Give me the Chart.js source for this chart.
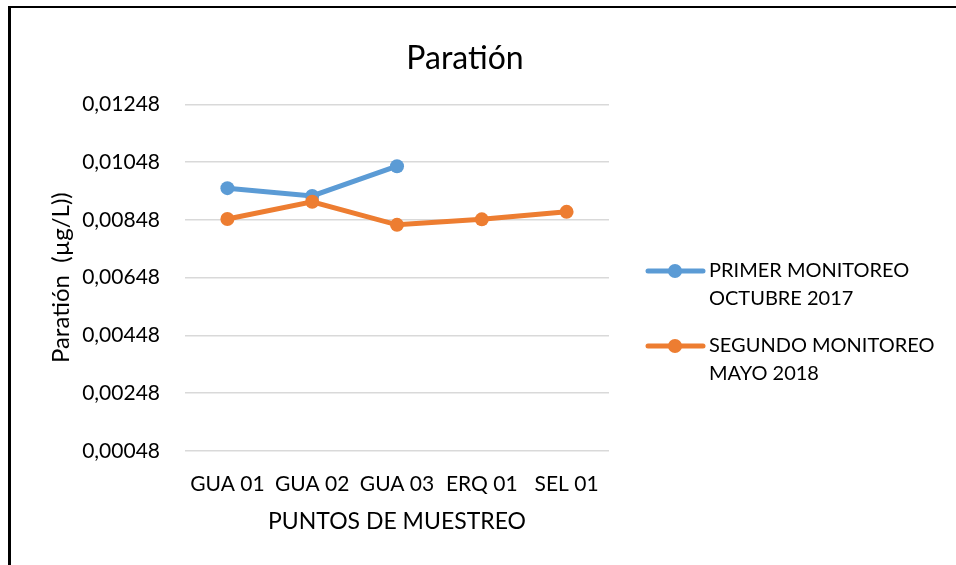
<!DOCTYPE html>
<html>
<head>
<meta charset="utf-8">
<title>Paratión</title>
<script src="https://cdn.jsdelivr.net/npm/chart.js@4.4.1/dist/chart.umd.min.js"></script>
<style>
  body { margin: 0; background: #fff; overflow: hidden; }
  #frame {
    position: absolute; left: 8px; top: 6px; width: 2000px; height: 2000px;
    border-top: 2px solid #000; border-left: 3px solid #000;
  }
  #myChart { position: absolute; left: 0; top: 0; }
</style>
</head>
<body>
<div id="frame"></div>
<canvas id="myChart" width="956" height="565"></canvas>
<script>
// data
const puntos = ['GUA 01', 'GUA 02', 'GUA 03', 'ERQ 01', 'SEL 01'];
const primerMonitoreo = [0.00958, 0.00931, 0.01034, null, null];
const segundoMonitoreo = [0.00851, 0.00911, 0.00831, 0.00850, 0.00876];
const yTicks = [0.00048, 0.00248, 0.00448, 0.00648, 0.00848, 0.01048, 0.01248];
const seriesLines = [
    ['PRIMER MONITOREO', 'OCTUBRE 2017'],
    ['SEGUNDO MONITOREO', 'MAYO 2018']
];

const FONT = 'Lato';

// legend with two lines of text per entry, drawn at the right of the plot
const sideLegend = {
    id: 'sideLegend',
    afterDraw(chart) {
        const ctx = chart.ctx;
        const x0 = chart.chartArea.right + 39;
        let y = 271;
        ctx.save();
        chart.data.datasets.forEach((ds, i) => {
            ctx.strokeStyle = ds.borderColor;
            ctx.lineWidth = 5;
            ctx.lineCap = 'round';
            ctx.beginPath();
            ctx.moveTo(x0, y);
            ctx.lineTo(x0 + 55, y);
            ctx.stroke();
            ctx.fillStyle = ds.borderColor;
            ctx.beginPath();
            ctx.arc(x0 + 27, y, 7, 0, Math.PI * 2);
            ctx.fill();

            ctx.fillStyle = '#000';
            ctx.font = `20px ${FONT}`;
            ctx.textBaseline = 'middle';
            ctx.textAlign = 'left';
            seriesLines[i].forEach((line, k) => {
                ctx.fillText(line, x0 + 61, y + k * 28);
            });
            y += 75;
        });
        ctx.restore();
    }
};

const ctx = document.getElementById('myChart');

new Chart(ctx, {
    type: 'line',
    data: {
        labels: puntos,
        datasets: [
            {
                label: seriesLines[0].join(' '),
                data: primerMonitoreo,
                borderColor: '#5B9BD5',
                backgroundColor: '#5B9BD5',
                borderWidth: 5,
                pointRadius: 7,
                pointBorderWidth: 0,
                pointBackgroundColor: '#5B9BD5',
                order: 2
            },
            {
                label: seriesLines[1].join(' '),
                data: segundoMonitoreo,
                borderColor: '#ED7D31',
                backgroundColor: '#ED7D31',
                borderWidth: 5,
                pointRadius: 7,
                pointBorderWidth: 0,
                pointBackgroundColor: '#ED7D31',
                order: 1
            }
        ]
    },
    options: {
        responsive: false,
        animation: false,
        layout: { padding: { left: 0, right: 26, top: 0, bottom: 0 } },
        plugins: {
            legend: { display: false },
            tooltip: { enabled: false },
            title: {
                display: true,
                text: 'Paratión',
                color: '#000',
                font: { family: FONT, size: 32, weight: 'normal' },
                padding: { top: 39, bottom: 27 }
            }
        },
        scales: {
            x: {
                offset: true,
                grid: { display: false, drawTicks: false },
                border: { display: false },
                ticks: {
                    color: '#000',
                    padding: 21,
                    font: { family: FONT, size: 21 }
                },
                title: {
                    display: true,
                    text: 'PUNTOS DE MUESTREO',
                    color: '#000',
                    font: { family: FONT, size: 23 },
                    padding: { top: 0, bottom: 30 }
                },
                afterFit: (scale) => { scale.height = 114; }
            },
            y: {
                position: 'left',
                min: yTicks[0],
                max: yTicks[yTicks.length - 1],
                afterBuildTicks: (axis) => {
                    axis.ticks = yTicks.map(v => ({ value: v }));
                },
                grid: { color: '#D9D9D9', lineWidth: 1.5, drawTicks: false },
                border: { display: false },
                ticks: {
                    color: '#000',
                    padding: 25,
                    font: { family: FONT, size: 21 },
                    callback: (v) => v.toFixed(5).replace('.', ',')
                },
                title: {
                    display: true,
                    text: 'Paratión  (µg/L))',
                    color: '#000',
                    font: { family: FONT, size: 24 },
                    padding: { top: 47, bottom: 0 }
                },
                afterFit: (scale) => { scale.width = 185; }
            },
            // empty axis that keeps room for the legend
            side: {
                position: 'right',
                grid: { display: false, drawTicks: false },
                border: { display: false },
                ticks: { display: false },
                afterFit: (scale) => { scale.width = 321; }
            }
        }
    },
    plugins: [sideLegend]
});
</script>
</body>
</html>
